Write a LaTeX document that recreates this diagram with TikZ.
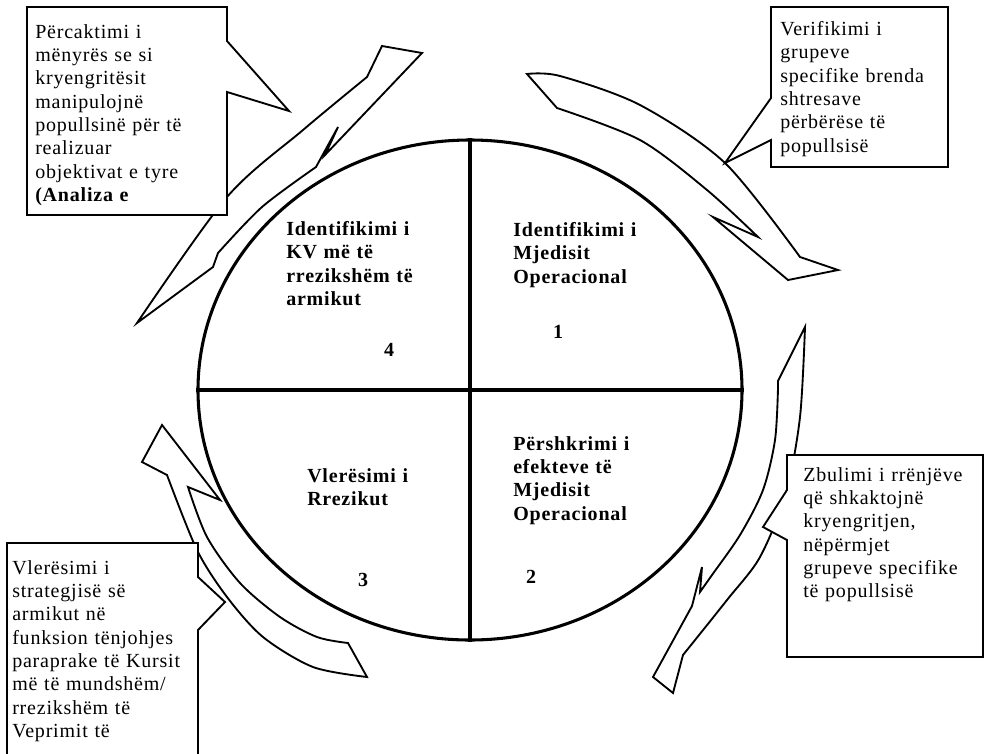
\documentclass[tikz,border=0pt]{standalone}
\usepackage{fontspec}
\setmainfont[LetterSpace=4]{Liberation Serif}
\usetikzlibrary{shapes.geometric}
\begin{document}
\begin{tikzpicture}[x=0.75pt,y=-0.75pt,
    box/.style={draw,line width=1.4pt,fill=white,line join=miter},
    arrowline/.style={draw,line width=1.4pt,fill=white,line join=miter},
    txt/.style={anchor=north west,inner sep=0pt,text width=6cm,align=left,font=\fontsize{15}{17.5}\selectfont},
    quad/.style={txt,font=\fontsize{15}{17.5}\selectfont\bfseries},
    num/.style={inner sep=0pt,font=\fontsize{15}{17}\selectfont\bfseries}]
    \useasboundingbox (0,0) rectangle (984,753);
    \clip (0,0) rectangle (984,753);
    \fill[white] (0,0) rectangle (984,753);

    \draw[arrowline] (382,46) -- (422,53) -- (325,155) -- (338,127) -- (316,167)
        -- plot[smooth] coordinates {(316,167) (262,207) (218,253)} -- (213,267) -- (137,323)
        -- plot[smooth] coordinates {(137,323) (227,197) (303,130) (367,77)} -- cycle;
    \draw[arrowline] (527,74) -- (557,108)
        -- plot[smooth] coordinates {(557,108) (640,140) (707,190) (758,237)} -- (713,217) -- (788,280) -- (838,270) -- (800,257)
        -- plot[smooth] coordinates {(800,257) (725,163) (640,105) (560,76) (527,74)} -- cycle;
    \draw[arrowline] (805,327) -- (778,381) -- (778,388)
        -- plot[smooth] coordinates {(778,388) (775,440) (763,490) (740,535) (712,575) (700,592)} -- (702,567) -- (692,606) -- (653,677) -- (673,693) -- (683,655)
        -- plot[smooth] coordinates {(683,655) (727,600) (760,557) (786,493) (800,417) (805,327)} -- cycle;
    \draw[arrowline] (162,425) -- (220,500) -- (188,487)
        -- plot[smooth] coordinates {(188,487) (207,537) (240,583) (280,617) (317,637) (348,643)} -- (367,677)
        -- plot[smooth] coordinates {(367,677) (313,667) (263,637) (227,597) (197,550) (167,475)} -- (142,462) -- cycle;

    \node[draw,ellipse,line width=2.3pt,minimum width=408pt,minimum height=375pt,inner sep=0pt] (wheel) at (470,390) {};
    \draw[line width=2.3pt] (wheel.west) -- (wheel.east);
    \draw[line width=2.3pt] (wheel.north) -- (wheel.south);

    \node[quad] (q4) at (286,221) {Identifikimi i\\KV më të\\rrezikshëm të\\armikut};
    \node[quad] (q1) at (513,222) {Identifikimi i\\Mjedisit\\Operacional};
    \node[quad] (q2) at (513,436) {Përshkrimi i\\efekteve të\\Mjedisit\\Operacional};
    \node[quad] (q3) at (307,468) {Vlerësimi i\\Rrezikut};
    \node[num] (n4) at (389,350) {4};
    \node[num] (n1) at (558,332) {1};
    \node[num] (n2) at (531,577) {2};
    \node[num] (n3) at (363,580) {3};

    \draw[box] (27,7) -- (227,7) -- (227,41) -- (289,111) -- (227,92) -- (227,215) -- (27,215) -- cycle;
    \draw[box] (771,7) -- (948,7) -- (948,167) -- (771,167) -- (771,140) -- (725,163) -- (771,98) -- cycle;
    \draw[box] (787,455) -- (983,455) -- (983,657) -- (787,657) -- (787,540) -- (763,527) -- (787,490) -- cycle;
    \draw[box] (7,543) -- (198,543) -- (198,577) -- (225,602) -- (198,630) -- (198,770) -- (7,770) -- cycle;

    \node[txt] (t4) at (35,24) {Përcaktimi i\\mënyrës se si\\kryengritësit\\manipulojnë\\popullsinë për të\\realizuar\\objektivat e tyre\\\textbf{(Analiza e}};
    \node[txt] (t1) at (780,21) {Verifikimi i\\grupeve\\specifike brenda\\shtresave\\përbërëse të\\popullsisë};
    \node[txt] (t2) at (803,467) {Zbulimi i rrënjëve\\që shkaktojnë\\kryengritjen,\\nëpërmjet\\grupeve specifike\\të popullsisë};
    \node[txt] (t3) at (12,560) {Vlerësimi i\\strategjisë së\\armikut në\\funksion tënjohjes\\paraprake të Kursit\\më të mundshëm/\\rrezikshëm të\\Veprimit të};
\end{tikzpicture}
\end{document}
